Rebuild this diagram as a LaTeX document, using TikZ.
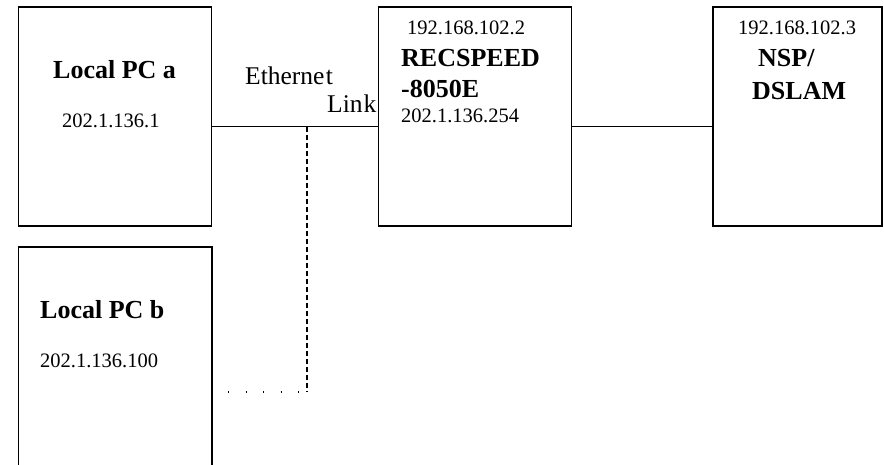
\documentclass[tikz,border=0pt]{standalone}
\usepackage{fontspec}
\setmainfont{Liberation Serif}
\begin{document}
\begin{tikzpicture}[x=1pt,y=-1pt,
  devbox/.style={draw, line width=1.6pt, minimum width=193pt, inner sep=0pt},
  bigtxt/.style={font=\fontsize{26}{28}\selectfont\bfseries, anchor=base west, inner sep=0pt},
  smalltxt/.style={font=\fontsize{20.5}{22}\selectfont, anchor=base west, inner sep=0pt},
  linktxt/.style={font=\fontsize{25.5}{28}\selectfont, anchor=base west, inner sep=0pt},
  wire/.style={line width=1pt},
  dashwire/.style={line width=1.5pt, dash pattern=on 5pt off 3pt},
  dotwire/.style={line width=1.2pt, dash pattern=on 1.2pt off 16.3pt, dash phase=1.2pt}]
\useasboundingbox (0,0) rectangle (884,465);
% boxes
\node[devbox, minimum height=219pt] (pca) at (115,116.5) {};
\node[devbox, minimum height=219pt] (rec) at (475,116.5) {};
\node[devbox, minimum width=169pt, minimum height=219pt] (nsp) at (797.5,116.5) {};
\node[minimum width=193pt, minimum height=233pt, inner sep=0pt] (pcb) at (115,363.5) {};
\draw[line width=1.6pt] (pcb.south west) -- (pcb.north west) -- (pcb.north east) -- (pcb.south east);
% texts
\node[bigtxt] (tpca) at (53,79) {Local PC a};
\node[smalltxt] (ipa) at (62,128) {202.1.136.1};
\node[bigtxt] (tpcb) at (40,319) {Local PC b};
\node[smalltxt] (ipb) at (40,367) {202.1.136.100};
\node[linktxt] (eth) at (245,85) {Etherne\kern1.5pt t};
\node[linktxt] (lnk) at (327,113) {Lin\kern1pt k};
\node[smalltxt] (ipr1) at (407,35) {192.168.102.2};
\node[bigtxt] (tr1) at (401,67) {RECSPEED};
\node[bigtxt] (tr2) at (401,98) {-8050E};
\node[smalltxt] (ipr2) at (401,123) {202.1.136.254};
\node[smalltxt] (ipn) at (738,35) {192.168.102.3};
\node[bigtxt] (tn1) at (758,67) {NSP/};
\node[bigtxt] (tn2) at (752,100) {DSLAM};
% connectors
\coordinate (lk) at (0,127);
\coordinate (j) at (307,127);
\coordinate (k) at (307,392);
\draw[wire] (pca.east |- lk) -- (rec.west |- lk);
\draw[wire] (rec.east |- lk) -- (nsp.west |- lk);
\draw[dashwire] (j) -- (k);
\draw[dotwire] (pcb.east |- k) -- (k);
\end{tikzpicture}
\end{document}
